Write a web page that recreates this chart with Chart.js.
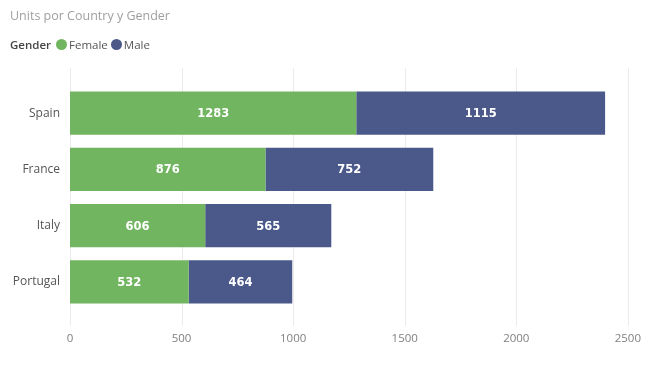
<!DOCTYPE html>
<html lang="es">
<head>
    <meta charset="UTF-8">
    <title>Units por Country y Gender</title>
    <style>
        body {
            margin: 0;
            padding: 0;
            background: #fff;
            font-family: "Open Sans", "Noto Sans", sans-serif;
        }

        #wrap {
            position: relative;
            width: 663px;
            height: 372px;
        }

        #title {
            position: absolute;
            left: 10px;
            top: 7px;
            font-size: 12.5px;
            color: #a0a0a0;
            white-space: nowrap;
        }

        #legend {
            position: absolute;
            left: 10px;
            top: 37px;
            font-size: 11.5px;
            color: #444;
            white-space: nowrap;
        }

        #legend b {
            font-weight: 600;
            margin-right: 5px;
        }

        .dot {
            display: inline-block;
            width: 11px;
            height: 11px;
            border-radius: 50%;
            vertical-align: -1px;
            margin-right: 2px;
        }

        .item {
            margin-right: 3px;
            color: #555;
        }

        canvas {
            position: absolute;
            left: 0;
            top: 0;
        }
    </style>
</head>
<body>
    <div id="wrap">
        <canvas id="chart" width="663" height="372"></canvas>
        <div id="title">Units por Country y Gender</div>
        <div id="legend"></div>
    </div>

    <script src="https://cdn.jsdelivr.net/npm/chart.js"></script>
    <script>
        const countries = ["Spain", "France", "Italy", "Portugal"];
        const female = [1283, 876, 606, 532];
        const male = [1115, 752, 565, 464];
        const xTicks = [0, 500, 1000, 1500, 2000, 2500];

        const colors = { Female: "#71b560", Male: "#4a588a" };

        // legend in html
        const legend = document.getElementById("legend");
        legend.innerHTML = "<b>Gender</b>" + Object.keys(colors).map(name =>
            `<span class="item"><span class="dot" style="background:${colors[name]}"></span>${name}</span>`
        ).join("");

        // vertical gridlines that run a bit past the bars
        const gridPlugin = {
            id: "longGrid",
            beforeDatasetsDraw(chart) {
                const ctx = chart.ctx;
                const x = chart.scales.x;
                const area = chart.chartArea;
                ctx.save();
                ctx.strokeStyle = "#ebebeb";
                ctx.lineWidth = 1;
                xTicks.forEach(v => {
                    const px = Math.round(x.getPixelForValue(v)) + 0.5;
                    ctx.beginPath();
                    ctx.moveTo(px, area.top - 17);
                    ctx.lineTo(px, area.bottom + 16);
                    ctx.stroke();
                });
                ctx.restore();
            }
        };

        // value labels in the middle of each segment
        const labelPlugin = {
            id: "segLabels",
            afterDatasetsDraw(chart) {
                const ctx = chart.ctx;
                ctx.save();
                ctx.fillStyle = "#ffffff";
                ctx.font = "bold 11.5px 'DejaVu Sans', sans-serif";
                ctx.textAlign = "center";
                ctx.textBaseline = "middle";
                chart.data.datasets.forEach((ds, i) => {
                    chart.getDatasetMeta(i).data.forEach((bar, j) => {
                        const mid = (bar.x + bar.base) / 2;
                        ctx.fillText(ds.data[j], mid, bar.y + 1);
                    });
                });
                ctx.restore();
            }
        };

        new Chart(document.getElementById("chart"), {
            type: "bar",
            data: {
                labels: countries,
                datasets: [
                    { label: "Female", data: female, backgroundColor: colors.Female },
                    { label: "Male", data: male, backgroundColor: colors.Male }
                ]
            },
            options: {
                indexAxis: "y",
                responsive: false,
                animation: false,
                layout: { padding: { top: 85, right: 29, left: 0, bottom: 0 } },
                datasets: { bar: { categoryPercentage: 1, barPercentage: 0.77 } },
                plugins: {
                    legend: { display: false },
                    tooltip: { enabled: false }
                },
                scales: {
                    x: {
                        stacked: true,
                        min: 0,
                        max: 2500,
                        afterBuildTicks(scale) {
                            scale.ticks = xTicks.map(v => ({ value: v }));
                        },
                        afterFit(scale) { scale.height = 62; },
                        grid: { display: false, drawTicks: false },
                        border: { display: false },
                        ticks: {
                            padding: 22,
                            color: "#808080",
                            callback: v => String(v),
                            font: { family: "'Open Sans', 'Noto Sans', sans-serif", size: 11.5 }
                        }
                    },
                    y: {
                        stacked: true,
                        afterFit(scale) { scale.width = 70; },
                        grid: { display: false, drawTicks: false },
                        border: { display: false },
                        ticks: {
                            padding: 10,
                            color: "#555",
                            font: { family: "'Open Sans', 'Noto Sans', sans-serif", size: 12 }
                        }
                    }
                }
            },
            plugins: [gridPlugin, labelPlugin]
        });
    </script>
</body>
</html>
